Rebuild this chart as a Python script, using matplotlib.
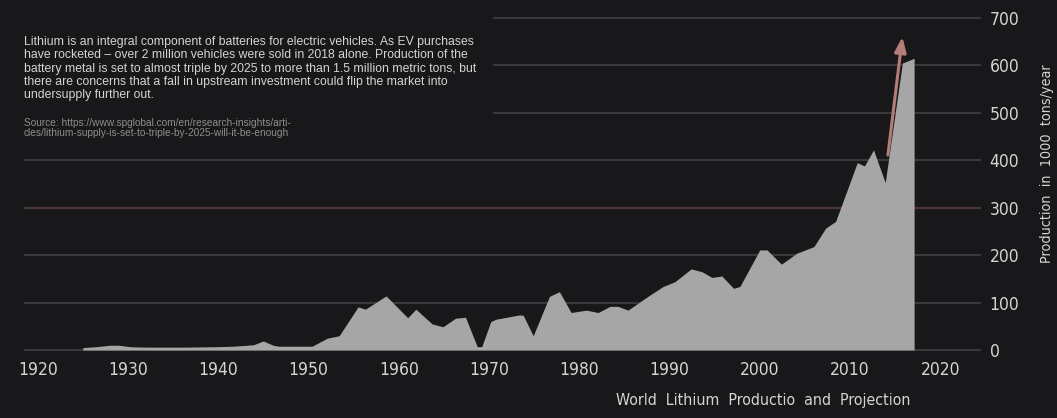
import matplotlib
matplotlib.use("Agg")
import matplotlib.pyplot as plt
from matplotlib.patches import Rectangle

# world lithium production, 1000 t/yr
years = [1925.0, 1926.5, 1928.0, 1929.0, 1930.2, 1932.0, 1936.0, 1940.0, 1941.7,
         1943.9, 1945.0, 1946.1, 1946.7, 1950.4, 1952.1, 1953.4, 1955.5, 1956.3,
         1958.6, 1961.0, 1961.9, 1963.7, 1964.9, 1966.3, 1967.4, 1968.7, 1969.2,
         1970.2, 1970.8, 1973.4, 1973.8, 1974.9, 1976.7, 1977.8, 1979.1, 1980.8,
         1982.1, 1983.4, 1984.3, 1985.4, 1987.6, 1989.3, 1990.6, 1992.4, 1993.6,
         1994.7, 1995.8, 1997.1, 1997.8, 2000.0, 2000.8, 2002.4, 2004.1, 2006.0,
         2007.3, 2008.4, 2009.7, 2010.8, 2011.6, 2012.6, 2013.9, 2015.8, 2017.1]
production = [5, 7, 10, 10, 7, 6, 6, 7, 8,
              11, 19, 10, 8, 8, 25, 30, 91, 86,
              114, 68, 86, 55, 49, 67, 69, 7, 7,
              60, 65, 74, 73, 30, 113, 123, 79, 84,
              79, 92, 92, 84, 113, 134, 144, 171, 165,
              153, 156, 130, 134, 211, 211, 181, 204, 218,
              257, 271, 338, 395, 388, 422, 353, 605, 615]

arrow_start = (2014.2, 411)
arrow_end = (2015.8, 660)

y_ticks = [0, 100, 200, 300, 400, 500, 600, 700]
x_ticks = [1920, 1930, 1940, 1950, 1960, 1970, 1980, 1990, 2000, 2010, 2020]

blurb = ("Lithium is an integral component of batteries for electric vehicles. As EV purchases\n"
         "have rocketed \u2013 over 2 million vehicles were sold in 2018 alone. Production of the\n"
         "battery metal is set to almost triple by 2025 to more than 1.5 million metric tons, but\n"
         "there are concerns that a fall in upstream investment could flip the market into\n"
         "undersupply further out.")
source = ("Source: https://www.spglobal.com/en/research-insights/arti-\n"
          "cles/lithium-supply-is-set-to-triple-by-2025-will-it-be-enough")

BG = "#18181b"
FILL = "#a6a6a6"
GRID = "#3a3a3d"
TXT = "#d4d4d4"
NARROW = dict(family="DejaVu Sans", stretch="condensed")

fig = plt.figure(figsize=(10.57, 4.18), dpi=100, facecolor=BG)
ax = fig.add_axes([25 / 1057, 68 / 418, 955 / 1057, 341.5 / 418])
ax.set_facecolor(BG)
ax.set_xlim(1918.6, 2024.4)
ax.set_ylim(0, 720)

ax.fill_between(years, production, 0, color=FILL, lw=0, zorder=2)
ax.annotate("", xy=arrow_end, xytext=arrow_start,
            arrowprops=dict(arrowstyle="-|>,head_length=0.9,head_width=0.35",
                            color="#b47e78", lw=2.2, shrinkA=0, shrinkB=0),
            zorder=4)

for s in ax.spines.values():
    s.set_visible(False)
ax.set_yticks(y_ticks)
ax.set_xticks(x_ticks)
ax.yaxis.tick_right()
ax.tick_params(axis="both", length=0, colors=TXT, labelsize=12.5)
ax.tick_params(axis="y", pad=7)
ax.tick_params(axis="x", pad=8)
for lab in ax.get_xticklabels() + ax.get_yticklabels():
    lab.set_family(NARROW["family"])
    lab.set_stretch(NARROW["stretch"])

ax.grid(axis="y", color=GRID, lw=1.5)
ax.grid(axis="x", visible=False)
ax.set_axisbelow(True)
for val, gl in zip(y_ticks, ax.get_ygridlines()):
    gl.set_clip_on(False)
    if val == 300:
        gl.set_color("#4a3434")

# panel behind the blurb hides the upper gridlines
ax.add_patch(Rectangle((-0.05, 0.6), 0.54, 0.45, transform=ax.transAxes,
                       facecolor=BG, edgecolor="none", zorder=1, clip_on=False))

fig.text(24 / 1057, 1 - 36 / 418, blurb, color=TXT, fontsize=8.8,
         family="Liberation Sans", va="top", ha="left", linespacing=1.15)
fig.text(24 / 1057, 1 - 118 / 418, source, color="#8e8e8e", fontsize=7.3,
         family="Liberation Sans", va="top", ha="left", linespacing=1.05)

fig.text(910 / 1057, 1 - 401 / 418, "World  Lithium  Productio  and  Projection",
         color=TXT, fontsize=11.4, ha="right", va="center", **NARROW)
fig.text(1047 / 1057, 1 - 164 / 418, "Production  in  1000  tons/year",
         color=TXT, fontsize=10.3, ha="center", va="center", rotation=90, **NARROW)

fig.savefig("out.png", dpi=100, facecolor=BG)
